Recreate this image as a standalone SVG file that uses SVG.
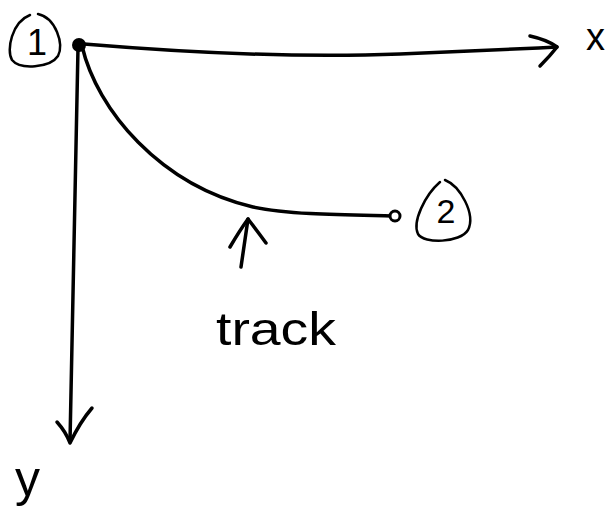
<svg xmlns="http://www.w3.org/2000/svg" width="611" height="515" viewBox="0 0 611 515">
<style>
.ln{fill:none;stroke:#000;stroke-width:3.5;stroke-linecap:round;stroke-linejoin:round}
.thin{fill:none;stroke:#000;stroke-width:2.5;stroke-linecap:round;stroke-linejoin:round}
.lbl{font-family:"Liberation Sans",Arial,sans-serif;fill:#000}
</style>
<rect width="611" height="515" fill="#fff"/>
<g id="connectors">
<path class="ln" d="M84,44 C180,52 300,58 400,54 S520,49 557,47"/>
<path class="ln" d="M530,36 Q548,40 557,47 Q550,56 540,66"/>
<path class="ln" d="M78,48 L70,442"/>
<path class="ln" d="M57,422 Q66,432 70,443 Q80,422 92,408"/>
<path class="ln" d="M82,46 C97,110 160,185 253,207 C290,215 350,215 392,216"/>
<path class="ln" d="M241,267 L248,219"/>
<path class="ln" d="M230,247 Q240,230 248,219 Q258,232 266,243"/>
</g>
<g id="node1">
<path class="thin" d="M30,15 C12,22 6,50 12,60 C20,70 50,68 58,56 C64,44 56,18 38,14"/>
<text class="lbl" x="37" y="55" font-size="36" text-anchor="middle">1</text>
<circle cx="79" cy="45" r="7" fill="#000"/>
</g>
<g id="node2">
<path class="thin" d="M440,182 C425,195 412,222 418,234 C424,244 460,243 468,230 C476,214 460,186 445,180"/>
<text class="lbl" x="446" y="223" font-size="34" text-anchor="middle">2</text>
<circle cx="395" cy="216" r="5" fill="#fff" stroke="#000" stroke-width="3"/>
</g>
<g id="labels">
<text class="lbl" x="586" y="50" font-size="38">x</text>
<text class="lbl" x="15" y="496" font-size="50">y</text>
<text class="lbl" x="216" y="345" font-size="46" textLength="120" lengthAdjust="spacingAndGlyphs">track</text>
</g>
</svg>
